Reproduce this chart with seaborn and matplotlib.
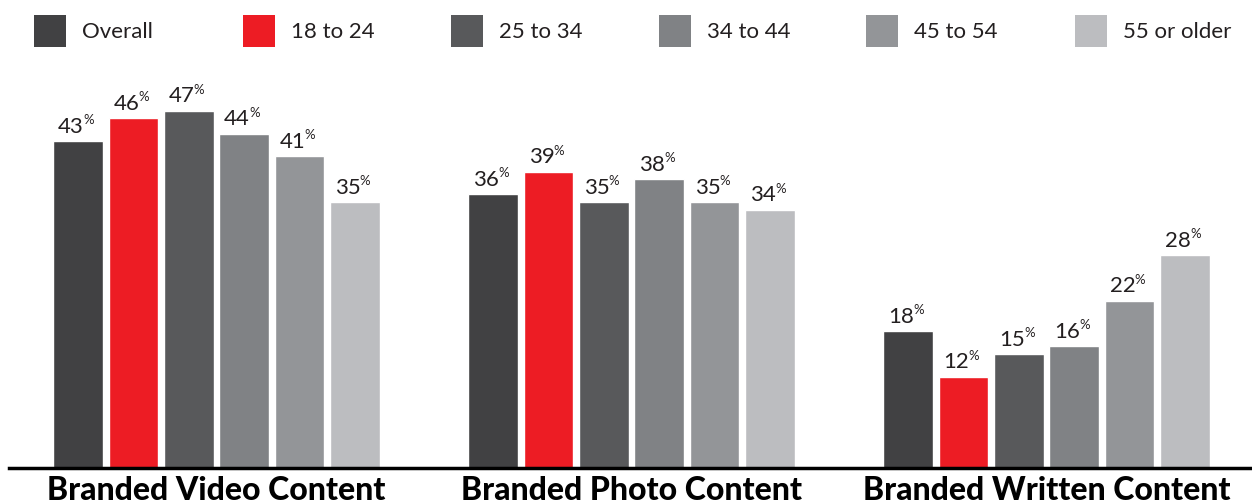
import matplotlib
matplotlib.use("Agg")
import matplotlib.pyplot as plt
from matplotlib.patches import Rectangle
import seaborn as sns
import pandas as pd

categories = ["Branded Video Content", "Branded Photo Content", "Branded Written Content"]
groups = ["Overall", "18 to 24", "25 to 34", "34 to 44", "45 to 54", "55 or older"]
colors = ["#414143", "#ED1C24", "#58595B", "#808285", "#939598", "#BCBDC0"]
overall = [43, 36, 18]
age_18_24 = [46, 39, 12]
age_25_34 = [47, 35, 15]
age_34_44 = [44, 38, 16]
age_45_54 = [41, 35, 22]
age_55_plus = [35, 34, 28]

series = [overall, age_18_24, age_25_34, age_34_44, age_45_54, age_55_plus]
rows = []
for g, vals in zip(groups, series):
    for c, v in zip(categories, vals):
        rows.append({"category": c, "group": g, "value": v})
df = pd.DataFrame(rows)

sns.set_theme(style="white")
plt.rcParams["font.family"] = ["Lato", "DejaVu Sans"]
TXT = "#231F20"

W, H = 1252, 504
fig = plt.figure(figsize=(W / 100, H / 100), dpi=100)
ax_left, ax_right = 9, 1252
ax_top, ax_bottom = 60, 468
ax = fig.add_axes([ax_left / W, (H - ax_bottom) / H, (ax_right - ax_left) / W, (ax_bottom - ax_top) / H])

sns.barplot(data=df, x="category", y="value", hue="group", order=categories,
            hue_order=groups, palette=colors, width=0.8, gap=0.1,
            saturation=1, legend=False, ax=ax)

ax.set_xlim(-0.5, 2.495)
ax.set_ylim(0, (ax_bottom - ax_top) / 7.6)
for s in ["top", "right", "left"]:
    ax.spines[s].set_visible(False)
ax.spines["bottom"].set_color("black")
ax.spines["bottom"].set_linewidth(2.5)
ax.set_yticks([])
ax.set_xlabel("")
ax.set_ylabel("")
ax.tick_params(axis="x", length=0, pad=6)
ax.set_xticks(range(len(categories)))
ax.set_xticklabels(categories, fontsize=23, fontweight="black", color="black")

pt = 0.72
for cont in ax.containers:
    for bar in cont:
        h = bar.get_height()
        xc = bar.get_x() + bar.get_width() / 2
        ax.annotate(f"{int(round(h))}", xy=(xc, h), xytext=(5.8 * pt, 8.3 * pt),
                    textcoords="offset points", ha="right", va="baseline",
                    fontsize=16, fontweight="normal", color=TXT)
        ax.annotate("%", xy=(xc, h), xytext=(5.0 * pt, 17.0 * pt),
                    textcoords="offset points", ha="left", va="baseline",
                    fontsize=9.5, fontweight="normal", color=TXT)

# legend
leg_x = [34, 243, 451, 659, 866, 1075]
sq = 32
for x, g, col in zip(leg_x, groups, colors):
    fig.add_artist(Rectangle((x / W, (H - 15 - sq) / H), sq / W, sq / H,
                             transform=fig.transFigure, facecolor=col, edgecolor="none"))
    fig.text((x + 48) / W, (H - 32) / H, g, fontsize=16, fontweight="normal",
             color=TXT, ha="left", va="center")

fig.savefig("out.png", dpi=100)
